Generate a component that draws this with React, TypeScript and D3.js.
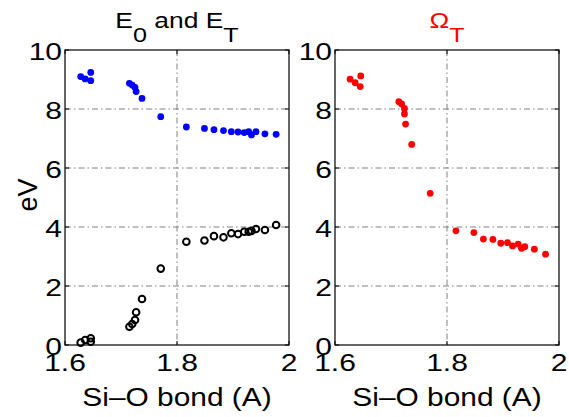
import React, { useEffect, useRef } from "react";
import * as d3 from "d3";

// Si-O bond length (A) shared by the E_0 / E_T series
const bondLength = [
  1.628, 1.636, 1.646, 1.646, 1.715, 1.72, 1.725, 1.727, 1.7375, 1.771, 1.8167,
  1.849, 1.866, 1.883, 1.897, 1.909, 1.92, 1.928, 1.933, 1.941, 1.957, 1.977,
];
// E_T (filled blue)
const eT = [
  9.1, 9.02, 9.24, 8.96, 8.87, 8.81, 8.73, 8.59, 8.36, 7.74, 7.39, 7.34, 7.3,
  7.27, 7.23, 7.22, 7.2, 7.23, 7.12, 7.23, 7.16, 7.14,
];
// E_0 (open black)
const e0 = [
  0.08, 0.17, 0.23, 0.11, 0.62, 0.71, 0.85, 1.11, 1.56, 2.59, 3.5, 3.54, 3.69,
  3.65, 3.79, 3.76, 3.84, 3.84, 3.87, 3.93, 3.9, 4.07,
];
// Omega_T (filled red)
const omegaBond = [
  1.627, 1.636, 1.646, 1.645, 1.714, 1.719, 1.724, 1.724, 1.726, 1.737, 1.77,
  1.816, 1.848, 1.865, 1.882, 1.896, 1.908, 1.917, 1.927, 1.933, 1.939, 1.956,
  1.976,
];
const omegaT = [
  9.01, 8.89, 9.12, 8.76, 8.25, 8.17, 8.02, 7.83, 7.49, 6.8, 5.14, 3.87, 3.81,
  3.59, 3.58, 3.45, 3.47, 3.36, 3.42, 3.28, 3.33, 3.25, 3.08,
];

const xTicks = [1.6, 1.8, 2];
const yTicks = [0, 2, 4, 6, 8, 10];
const FONT = "Liberation Sans, Arial, Helvetica, sans-serif";

// text that is a bit wider than tall, like the original figure
function label(g, x, y, size, sx, anchor, str) {
  return g.append("text")
    .attr("transform", `translate(${x},${y}) scale(${sx},1)`)
    .attr("text-anchor", anchor)
    .style("font-family", FONT).style("font-size", size + "px")
    .text(str);
}

function drawPanel(svg, left, opts) {
  const top = 50;
  const bottom = 345;
  const width = 224;
  const x = d3.scaleLinear().domain([1.6, 2]).range([left, left + width]);
  const y = d3.scaleLinear().domain([0, 10]).range([bottom, top]);
  const g = svg.append("g");

  // grid (dash-dot) at interior ticks
  xTicks.filter((t) => t > 1.6 && t < 2).forEach((t) => {
    g.append("line")
      .attr("x1", x(t)).attr("x2", x(t))
      .attr("y1", top).attr("y2", bottom)
      .attr("stroke", "#808080").attr("stroke-width", 1)
      .attr("stroke-dasharray", "6,3,1.5,3");
  });
  yTicks.filter((t) => t > 0 && t < 10).forEach((t) => {
    g.append("line")
      .attr("x1", left).attr("x2", left + width)
      .attr("y1", y(t)).attr("y2", y(t))
      .attr("stroke", "#808080").attr("stroke-width", 1)
      .attr("stroke-dasharray", "6,3,1.5,3");
  });

  // inner ticks
  xTicks.forEach((t) => {
    g.append("line").attr("x1", x(t)).attr("x2", x(t)).attr("y1", bottom).attr("y2", bottom - 4).attr("stroke", "#000");
    g.append("line").attr("x1", x(t)).attr("x2", x(t)).attr("y1", top).attr("y2", top + 4).attr("stroke", "#000");
  });
  yTicks.forEach((t) => {
    g.append("line").attr("x1", left).attr("x2", left + 4).attr("y1", y(t)).attr("y2", y(t)).attr("stroke", "#000");
    g.append("line").attr("x1", left + width).attr("x2", left + width - 4).attr("y1", y(t)).attr("y2", y(t)).attr("stroke", "#000");
  });

  // box
  g.append("rect")
    .attr("x", left).attr("y", top)
    .attr("width", width).attr("height", bottom - top)
    .attr("fill", "none").attr("stroke", "#000").attr("stroke-width", 1.2);

  // tick labels
  xTicks.forEach((t) => label(g, x(t), 371, 24, 1.25, "middle", d3.format("")(t)));
  yTicks.forEach((t) => label(g, left - 3, y(t) + 10, 24, 1.25, "end", String(t)));

  // x label
  label(g, left + width / 2, 406, 26, 1.15, "middle", "Si\u2013O bond (A)");

  // title with TeX-like subscripts
  const title = g.append("text")
    .attr("transform", `translate(${left + width / 2},28) scale(1.2,1)`)
    .attr("text-anchor", "middle")
    .style("font-family", FONT).style("font-size", "22px")
    .attr("fill", opts.titleColor);
  let shifted = false;
  opts.title.forEach((part) => {
    const ts = title.append("tspan").text(part.t);
    if (part.sub && !shifted) {
      ts.attr("dy", 14).style("font-size", "21px");
      shifted = true;
    } else if (!part.sub && shifted) {
      ts.attr("dy", -14);
      shifted = false;
    } else if (part.sub) {
      ts.style("font-size", "21px");
    }
  });

  opts.series.forEach((s) => {
    g.selectAll(null).data(s.ys).enter().append("circle")
      .attr("cx", (d, i) => x(s.xs[i]))
      .attr("cy", (d) => y(d))
      .attr("r", s.open ? 3.3 : 3.4)
      .attr("fill", s.open ? "none" : s.color)
      .attr("stroke", s.color)
      .attr("stroke-width", s.open ? 2 : 0);
  });
}

export default function App() {
  const ref = useRef(null);
  useEffect(() => {
    const svg = d3.select(ref.current);
    svg.selectAll("*").remove();
    drawPanel(svg, 65, {
      title: [{ t: "E" }, { t: "0", sub: true }, { t: " and E" }, { t: "T", sub: true }],
      titleColor: "#000",
      series: [
        { xs: bondLength, ys: eT, color: "#0000ff", open: false },
        { xs: bondLength, ys: e0, color: "#000", open: true },
      ],
    });
    drawPanel(svg, 335, {
      title: [{ t: "\u03a9" }, { t: "T", sub: true }],
      titleColor: "#ff0000",
      series: [{ xs: omegaBond, ys: omegaT, color: "#ff0000", open: false }],
    });
    svg.append("text")
      .attr("transform", "translate(37,195) rotate(-90)")
      .attr("text-anchor", "middle")
      .style("font-family", FONT).style("font-size", "27px")
      .text("eV");
  }, []);
  return (
    <div style={{ position: "absolute", left: 0, top: 0 }}>
      <svg ref={ref} width={569} height={417} style={{ display: "block", background: "#fff" }} />
    </div>
  );
}
